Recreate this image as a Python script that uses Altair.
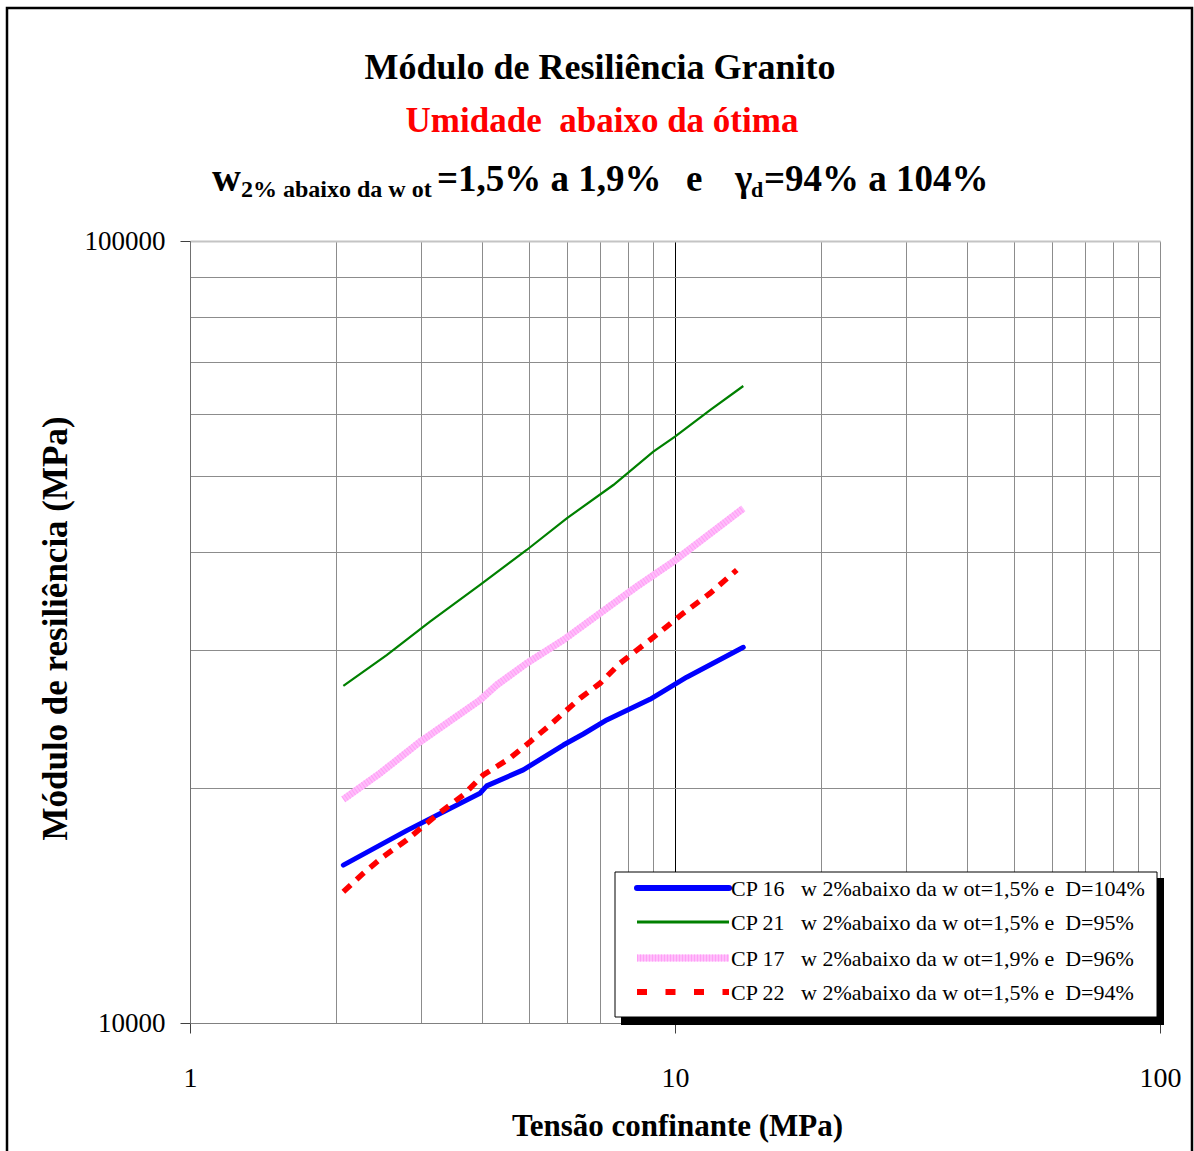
import altair as alt
import pandas as pd

# Confining stress (MPa) and resilient modulus (MPa) for each specimen
cp16_x = [2.071, 2.797, 3.963, 4.090, 4.866, 5.886, 6.470, 7.232, 8.881, 10.57, 13.83]
cp16_y = [15920, 17620, 19670, 20100, 21070, 22670, 23420, 24410, 25940, 27680, 30230]

cp21_x = [2.071, 2.544, 3.125, 3.963, 4.945, 5.981, 7.462, 9.022, 10.0, 11.81, 13.83]
cp21_y = [26980, 29550, 32600, 36330, 40260, 44190, 48750, 53770, 56200, 60790, 65250]

cp17_x = [2.071, 2.465, 2.981, 3.963, 4.289, 4.945, 5.886, 7.005, 8.337, 9.92, 13.83]
cp17_y = [19320, 20860, 22890, 25880, 27050, 28840, 30890, 33420, 36140, 38900, 45510]

cp22_x = [2.071, 2.277, 2.503, 2.797, 3.227, 3.660, 4.025, 4.568, 5.024, 5.525,
          6.370, 7.005, 7.702, 8.881, 9.613, 10.40, 11.81, 13.41]
cp22_y = [14720, 15540, 16320, 17140, 18450, 19570, 20760, 21810, 22890, 24050,
          26020, 27190, 28840, 30890, 32130, 33420, 35440, 37960]

series_names = ["CP 16", "CP 21", "CP 17", "CP 22"]
legend_labels = [
    "CP 16\u00a0\u00a0\u00a0w 2%abaixo da w ot=1,5% e\u00a0\u00a0D=104%",
    "CP 21\u00a0\u00a0\u00a0w 2%abaixo da w ot=1,5% e\u00a0\u00a0D=95%",
    "CP 17\u00a0\u00a0\u00a0w 2%abaixo da w ot=1,9% e\u00a0\u00a0D=96%",
    "CP 22\u00a0\u00a0\u00a0w 2%abaixo da w ot=1,5% e\u00a0\u00a0D=94%",
]

x_ticks = [1, 2, 3, 4, 5, 6, 7, 8, 9, 10, 20, 30, 40, 50, 60, 70, 80, 90, 100]
y_ticks = [10000, 20000, 30000, 40000, 50000, 60000, 70000, 80000, 90000, 100000]

SERIF = "Liberation Serif"


def frame(xs, ys, name):
    return pd.DataFrame({"tensao": xs, "modulo": ys, "serie": name,
                         "ordem": list(range(len(xs)))})


x_scale = alt.Scale(type="log", domain=[1, 100], nice=False)
y_scale = alt.Scale(type="log", domain=[10000, 100000], nice=False)

x_axis = alt.Axis(
    values=x_ticks,
    labelExpr="indexof([1,10,100], datum.value) >= 0 ? '' + datum.value : ''",
    title="Tensão confinante (MPa)",
    grid=True,
    gridColor={"condition": {"test": "datum.value === 10", "value": "black"},
               "value": "#8c8c8c"},
    gridWidth=1,
    tickOpacity={"condition": {"test": "indexof([1,10,100], datum.value) >= 0", "value": 1},
                 "value": 0},
    tickSize=10,
    tickColor="#404040",
    domainColor="#808080",
    labelFont=SERIF, labelFontSize=28, labelColor="black",
    labelBaseline="middle", labelPadding=45,
    labelFlush=False, labelOverlap=False,
    titleFont=SERIF, titleFontSize=31, titleFontWeight="bold", titleColor="black",
    titleX=487, titleY=112, titleBaseline="alphabetic",
)

y_axis = alt.Axis(
    values=y_ticks,
    labelExpr="indexof([10000,100000], datum.value) >= 0 ? '' + datum.value : ''",
    title="Módulo de resiliência (MPa)",
    grid=True,
    gridColor={"condition": {"test": "datum.value === 100000", "value": "#c4c4c4"},
               "value": "#8c8c8c"},
    gridWidth={"condition": {"test": "datum.value === 100000", "value": 2}, "value": 1},
    tickOpacity={"condition": {"test": "indexof([10000,100000], datum.value) >= 0", "value": 1},
                 "value": 0},
    tickSize=10,
    tickColor="#404040",
    domainColor="#707070",
    labelFont=SERIF, labelFontSize=27, labelColor="black", labelPadding=15,
    labelFlush=False, labelOverlap=False,
    titleFont=SERIF, titleFontSize=35, titleFontWeight="bold", titleColor="black",
    titleX=-124, titleY=387, titleBaseline="alphabetic",
)

X = alt.X("tensao:Q", scale=x_scale, axis=x_axis)
Y = alt.Y("modulo:Q", scale=y_scale, axis=y_axis)
one = pd.DataFrame({"k": [0]})

# curves
blue = alt.Chart(frame(cp16_x, cp16_y, series_names[0])).mark_line(
    color="#0000ff", strokeWidth=5, strokeCap="round", strokeJoin="round"
).encode(x=X, y=Y, order="ordem:Q")

green = alt.Chart(frame(cp21_x, cp21_y, series_names[1])).mark_line(
    color="#008000", strokeWidth=2.2
).encode(x=X, y=Y, order="ordem:Q")

pink = alt.Chart(frame(cp17_x, cp17_y, series_names[2])).mark_line(
    color="#ffbdfb", strokeWidth=7
).encode(x=X, y=Y, order="ordem:Q")

pink_hatch = alt.Chart(frame(cp17_x, cp17_y, series_names[2])).mark_line(
    color="#ff9ef5", strokeWidth=7, strokeDash=[1, 2]
).encode(x=X, y=Y, order="ordem:Q")

red = alt.Chart(frame(cp22_x, cp22_y, series_names[3])).mark_line(
    color="#ff0000", strokeWidth=5.5, strokeDash=[10, 8]
).encode(x=X, y=Y, order="ordem:Q")

# legend box with drop shadow
shadow = alt.Chart(one).mark_rect(color="black").encode(
    x=alt.value(431), x2=alt.value(974), y=alt.value(637), y2=alt.value(784))
box = alt.Chart(one).mark_rect(fill="white", stroke="black", strokeWidth=1).encode(
    x=alt.value(425), x2=alt.value(967), y=alt.value(631), y2=alt.value(776))

legend_rows_y = [647, 681, 717, 751]
legend_styles = [
    dict(color="#0000ff", strokeWidth=6, strokeCap="round"),
    dict(color="#008000", strokeWidth=3),
    dict(color="#ffbdfb", strokeWidth=7),
    dict(color="#ff0000", strokeWidth=6, strokeDash=[10, 18.5]),
]
legend_layers = []
for i in range(4):
    legend_layers.append(
        alt.Chart(one).mark_rule(**legend_styles[i]).encode(
            x=alt.value(447), x2=alt.value(539), y=alt.value(legend_rows_y[i])))
    if i == 2:
        legend_layers.append(
            alt.Chart(one).mark_rule(color="#ff9ef5", strokeWidth=7, strokeDash=[1, 2]).encode(
                x=alt.value(447), x2=alt.value(539), y=alt.value(legend_rows_y[i])))
    legend_layers.append(
        alt.Chart(pd.DataFrame({"txt": [legend_labels[i]]})).mark_text(
            font=SERIF, fontSize=22, align="left", baseline="middle", color="black"
        ).encode(text="txt:N", x=alt.value(541), y=alt.value(legend_rows_y[i] + 1)))

# outer frame
outer = alt.Chart(one).mark_rect(fill="white", fillOpacity=0, stroke="black", strokeWidth=2.5).encode(
    x=alt.value(-183), x2=alt.value(1002), y=alt.value(-233), y2=alt.value(930))


# heading lines
def label(txt, x, y, size, align="left", color="black"):
    return alt.Chart(pd.DataFrame({"txt": [txt]})).mark_text(
        font=SERIF, fontSize=size, fontWeight="bold", align=align,
        baseline="alphabetic", color=color
    ).encode(text="txt:N", x=alt.value(x), y=alt.value(y))


headings = [
    label("Módulo de Resiliência Granito", 410, -162, 36, align="center"),
    label("Umidade\u00a0\u00a0abaixo da ótima", 412, -109, 35, align="center", color="#ff0000"),
    label("w", 22, -50, 40),
    label("2% abaixo da w ot", 51, -44, 24),
    label("=1,5% a 1,9%", 247, -50, 37),
    label("e", 496, -50, 37),
    label("γ", 545, -50, 37),
    label("d", 561, -44, 22),
    label("=94% a 104%", 574, -50, 37),
]

chart = alt.layer(
    blue, green, pink, pink_hatch, red, shadow, box, *legend_layers, outer, *headings
).properties(
    width=970,
    height=782,
    autosize=alt.AutoSizeParams(type="none"),
    padding={"left": 190, "top": 241, "right": 34, "bottom": 128},
    background="white",
).configure_view(strokeWidth=0)

chart.save("out.html", embed_options={"renderer": "svg", "actions": False})
